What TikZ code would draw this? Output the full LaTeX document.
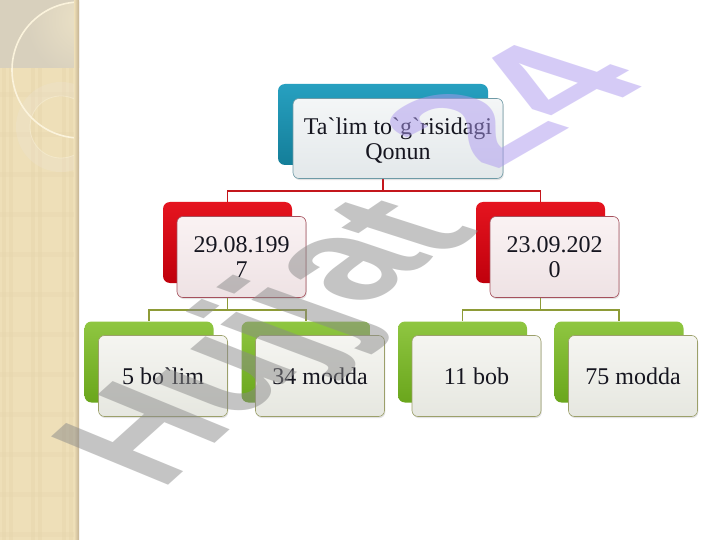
\documentclass[tikz,border=0pt]{standalone}
\usepackage{fontspec}
\setmainfont{Liberation Serif}
\newfontfamily\wmfont{Liberation Sans}
\usetikzlibrary{shadows,calc}
\definecolor{stripbg}{HTML}{EEDFB8}
\definecolor{stripgray}{HTML}{D8D0BD}
\definecolor{striplight}{HTML}{EBE1C6}
\definecolor{plaid}{HTML}{E6D5AC}
\definecolor{stripedge}{HTML}{C4B292}
\definecolor{circline}{HTML}{FBF3DC}
\definecolor{ringc}{HTML}{EDE2CF}
\definecolor{tealA}{HTML}{27A0C0}
\definecolor{tealB}{HTML}{147E99}
\definecolor{redA}{HTML}{E5141F}
\definecolor{redB}{HTML}{C0000C}
\definecolor{greenA}{HTML}{8FC641}
\definecolor{greenB}{HTML}{6AA61C}
\definecolor{ftealA}{HTML}{F4F6F7}
\definecolor{ftealB}{HTML}{E3E8EA}
\definecolor{ftealD}{HTML}{6E9AA6}
\definecolor{fredA}{HTML}{FAF2F3}
\definecolor{fredB}{HTML}{EEE2E4}
\definecolor{fredD}{HTML}{A5505C}
\definecolor{fgreenA}{HTML}{F5F5F1}
\definecolor{fgreenB}{HTML}{E6E7E0}
\definecolor{fgreenD}{HTML}{9CA06A}
\definecolor{conred}{HTML}{C4161C}
\definecolor{congreen}{HTML}{8E9B37}
\definecolor{txt}{HTML}{161620}
\definecolor{wmgray}{HTML}{8A8A8A}
\definecolor{wmpurple}{HTML}{AD99EF}
% one watermark glyph: name, origin x, origin y, matrix a b c d, colour, glyph
\newcommand{\wmg}[9]{%
  \begin{scope}[shift={(#2,#3)}, cm={#4,#5,#6,#7,(0,0)}]
    \node[wmtext, text=#8] (#1) at (0,0) {#9};
  \end{scope}}
\begin{document}
\begin{tikzpicture}[x=1pt,y=-1pt,
  backcard/.style={rounded corners=7pt, minimum width=129pt, minimum height=81pt, inner sep=0pt},
  frontcard/.style={rounded corners=6pt, minimum width=129pt, minimum height=81pt, inner sep=0pt,
    align=center, font=\fontsize{24}{25}\selectfont, text=txt, line width=0.6pt,
    drop shadow={opacity=0.22, shadow xshift=0.8pt, shadow yshift=-1.6pt}},
  tealback/.style={backcard, top color=tealA, bottom color=tealB},
  redback/.style={backcard, top color=redA, bottom color=redB},
  greenback/.style={backcard, top color=greenA, bottom color=greenB},
  tealfront/.style={frontcard, top color=ftealA, bottom color=ftealB, draw=ftealD},
  redfront/.style={frontcard, top color=fredA, bottom color=fredB, draw=fredD},
  greenfront/.style={frontcard, top color=fgreenA, bottom color=fgreenB, draw=fgreenD},
  redline/.style={draw=conred, line width=1.3pt},
  greenline/.style={draw=congreen, line width=1.3pt},
  wmtext/.style={transform shape, anchor=base west, inner sep=0pt,
    font=\wmfont\bfseries\fontsize{100}{100}\selectfont, text opacity=0.5}
]
\useasboundingbox (0,0) rectangle (720,540);
\fill[white] (0,0) rectangle (720,540);

% left decorative strip
\begin{scope}
  \clip (0,0) rectangle (79,540);
  \fill[stripbg] (0,0) rectangle (79,540);
  \foreach \x in {2,9,31,38,62,69} \fill[plaid, opacity=0.45] (\x,0) rectangle ++(4,540);
  \foreach \y in {12,52,92,132,172,212,252,292,332,372,412,452,492,532}
    \fill[plaid, opacity=0.3] (0,\y) rectangle ++(79,5);
  \fill[stripgray] (0,0) rectangle (79,68);
  \begin{scope}
    \clip (0,0) rectangle (79,68);
    \clip (80,70) circle[radius=68];
    \shade[inner color=striplight, outer color=stripgray] (84,20) circle[radius=58];
  \end{scope}
  \draw[ringc, line width=14pt, opacity=0.35] (61,127) circle[radius=38];
  \draw[circline, line width=0.8pt, opacity=0.45] (61,127) circle[radius=31];
  \draw[circline, line width=1.6pt] (80,70) circle[radius=68];
  \shade[left color=stripbg, right color=stripedge] (74,0) rectangle (79,540);
\end{scope}

% back cards
\node[tealback, minimum width=210pt] (k0) at (383,124.5) {};
\node[redback] (k1) at (227.5,242.5) {};
\node[redback] (k2) at (540.5,242.5) {};
\node[greenback] (k3) at (149,362) {};
\node[greenback] (k4) at (306,362) {};
\node[greenback] (k5) at (462.5,362) {};
\node[greenback] (k6) at (619,362) {};

% connectors
\coordinate (j0) at (0,191);
\coordinate (j1) at (0,310);
\draw[redline] (k0.south) -- (k0.south |- j0) -| (k1.north);
\draw[redline] (k0.south |- j0) -| (k2.north);
\draw[greenline] (k1.south) -- (k1.south |- j1) -| (k3.north);
\draw[greenline] (k1.south |- j1) -| (k4.north);
\draw[greenline] (k2.south) -- (k2.south |- j1) -| (k5.north);
\draw[greenline] (k2.south |- j1) -| (k6.north);

% front cards
\node[tealfront, minimum width=210pt, minimum height=80pt] (f0) at (398,138.5)
  {\rule{0pt}{20pt}Ta\textasciigrave lim to\textasciigrave g\textasciigrave risidagi\\Qonun};
\node[redfront] (f1) at (241.5,257) {29.08.199\\7};
\node[redfront] (f2) at (554.5,257) {23.09.202\\0};
\node[greenfront] (f3) at (163,376) {5 bo\textasciigrave lim};
\node[greenfront] (f4) at (320,376) {34 modda};
\node[greenfront] (f5) at (476.5,376) {11 bob};
\node[greenfront] (f6) at (633,376) {75 modda};

% watermark, glyph by glyph
\wmg{wmH}{161.7}{491.9}{1.048}{0.943}{-1.701}{0.701}{wmgray}{H}
\wmg{wmu}{237.4}{423.8}{1.103}{0.939}{-1.730}{0.681}{wmgray}{u}
\wmg{wmja}{304.8}{366.4}{1.157}{0.934}{-1.757}{0.660}{wmgray}{j}
\wmg{wmjb}{337.0}{340.4}{1.214}{0.925}{-1.785}{0.639}{wmgray}{j}
\wmg{wma}{363.0}{309.0}{1.270}{0.913}{-1.813}{0.614}{wmgray}{a}
\wmg{wmt}{437.0}{261.0}{1.327}{0.899}{-1.841}{0.591}{wmgray}{t}
\wmg{wmtwo}{494.6}{171.9}{1.455}{0.840}{-1.855}{0.603}{wmpurple}{2}
\wmg{wmfour}{575.5}{125.2}{1.455}{0.840}{-1.855}{0.603}{wmpurple}{4}
\end{tikzpicture}
\end{document}
